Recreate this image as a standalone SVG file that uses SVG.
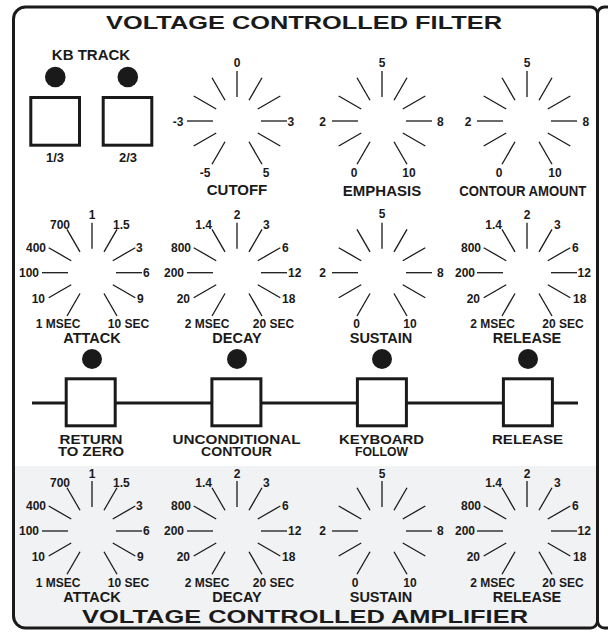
<svg xmlns="http://www.w3.org/2000/svg" xmlns:xlink="http://www.w3.org/1999/xlink" width="608" height="634" viewBox="0 0 608 634">
<style>
text{font-family:"Liberation Sans",Arial,Helvetica,sans-serif;font-weight:bold;fill:#1a1a1a}
.n{font-size:12px}
.m{text-anchor:middle}
.e{text-anchor:end}
.nm{font-size:14.5px;text-anchor:middle}
.fn{font-size:15px;text-anchor:middle}
.sw{font-size:13.5px;text-anchor:middle}
.title{font-size:18px;text-anchor:middle}
.led{fill:#1a1a1a}
.btn{fill:#fff;stroke:#1a1a1a;stroke-width:3}
.frame{fill:none;stroke:#1a1a1a;stroke-width:3}
</style>
<defs>
<g id="tkb" stroke="#1a1a1a" stroke-width="1.3">
<line x1="0" y1="-24" x2="0" y2="-50"/>
<line x1="12" y1="-20.78" x2="25" y2="-43.3"/>
<line x1="20.78" y1="-12" x2="43.3" y2="-25"/>
<line x1="20.78" y1="12" x2="43.3" y2="25"/>
<line x1="12" y1="20.78" x2="25" y2="43.3"/>
<line x1="-12" y1="20.78" x2="-25" y2="43.3"/>
<line x1="-20.78" y1="12" x2="-43.3" y2="25"/>
<line x1="-24" y1="0" x2="-50" y2="0"/>
<line x1="-20.78" y1="-12" x2="-43.3" y2="-25"/>
<line x1="-12" y1="-20.78" x2="-25" y2="-43.3"/>
<line x1="24" y1="0" x2="50" y2="0"/>
</g>
</defs>

<g id="panel">
<path d="M13.5 466 H597.5 V621 A7 7 0 0 1 590.5 628 H25.5 A12 12 0 0 1 13.5 616 Z" fill="#f1f2f4"/>
<path class="frame" d="M25.5 7 H590.5 A7 7 0 0 1 597.5 14 V621 A7 7 0 0 1 590.5 628 H25.5 A12 12 0 0 1 13.5 616 V19 A12 12 0 0 1 25.5 7 Z"/>
<path class="frame" d="M597.5 14 A7 7 0 0 1 604.5 7 H609 M597.5 621 A7 7 0 0 0 604.5 628 H609"/>
<text class="title" x="304" y="29" textLength="396" lengthAdjust="spacingAndGlyphs">VOLTAGE CONTROLLED FILTER</text>
<text class="title" x="305" y="623" textLength="446" lengthAdjust="spacingAndGlyphs">VOLTAGE CONTROLLED AMPLIFIER</text>
</g>

<g id="kb-track">
<text class="fn" x="91" y="60">KB TRACK</text>
<circle class="led" cx="55.3" cy="77" r="10.3"/>
<circle class="led" cx="127.8" cy="77" r="10.3"/>
<rect class="btn" x="30.8" y="97.5" width="48.7" height="47.7"/>
<rect class="btn" x="103.2" y="97.5" width="48.6" height="47.7"/>
<text class="m" style="font-size:13px" x="55" y="161.7">1/3</text>
<text class="m" style="font-size:13px" x="128" y="161.7">2/3</text>
</g>

<g id="vcf-cutoff" transform="translate(237,121)">
<use xlink:href="#tkb" href="#tkb"/>
<text class="n m" x="0" y="-54">0</text>
<text class="n e" x="-53.5" y="4.5">-3</text>
<text class="n" x="50.5" y="4.5">3</text>
<text class="n m" x="-32" y="56">-5</text>
<text class="n m" x="29" y="56">5</text>
<text class="fn" x="0" y="74">CUTOFF</text>
</g>

<g id="vcf-emphasis" transform="translate(382,121)">
<use xlink:href="#tkb" href="#tkb"/>
<text class="n m" x="0" y="-54">5</text>
<text class="n e" x="-56" y="4.5">2</text>
<text class="n" x="55" y="4.5">8</text>
<text class="n m" x="-28" y="55.7">0</text>
<text class="n m" x="27" y="55.7">10</text>
<text class="fn" x="0" y="74.5">EMPHASIS</text>
</g>

<g id="vcf-contour" transform="translate(527,121)">
<use xlink:href="#tkb" href="#tkb"/>
<text class="n m" x="0" y="-54">5</text>
<text class="n e" x="-55.5" y="4.5">2</text>
<text class="n" x="55.5" y="4.5">8</text>
<text class="n m" x="-28" y="55.7">0</text>
<text class="n m" x="28" y="55.7">10</text>
<text class="fn" x="-4.3" y="74.5" textLength="127" lengthAdjust="spacingAndGlyphs">CONTOUR AMOUNT</text>
</g>

<g id="vcf-attack" transform="translate(92,272.7)">
<use xlink:href="#tkb" href="#tkb"/>
<text class="n m" x="0" y="-54">1</text>
<text class="n e" x="-22" y="-44">700</text>
<text class="n" x="21" y="-44">1.5</text>
<text class="n e" x="-46" y="-21">400</text>
<text class="n" x="44" y="-21">3</text>
<text class="n e" x="-53" y="4.3">100</text>
<text class="n" x="51" y="4.3">6</text>
<text class="n e" x="-47" y="30.3">10</text>
<text class="n" x="45" y="30.3">9</text>
<text class="n m" x="-34" y="55.3">1 MSEC</text>
<text class="n m" x="36.5" y="55.3">10 SEC</text>
<text class="nm" x="0" y="70.5">ATTACK</text>
</g>

<g id="vcf-decay" transform="translate(237,272.7)">
<use xlink:href="#tkb" href="#tkb"/>
<text class="n m" x="0" y="-54">2</text>
<text class="n e" x="-25" y="-44">1.4</text>
<text class="n" x="26" y="-44">3</text>
<text class="n e" x="-46" y="-21">800</text>
<text class="n" x="45" y="-21">6</text>
<text class="n e" x="-53" y="4.3">200</text>
<text class="n" x="51" y="4.3">12</text>
<text class="n e" x="-47" y="30.3">20</text>
<text class="n" x="45" y="30.3">18</text>
<text class="n m" x="-30" y="55.3">2 MSEC</text>
<text class="n m" x="36.5" y="55.3">20 SEC</text>
<text class="nm" x="0" y="70.5">DECAY</text>
</g>

<g id="vcf-sustain" transform="translate(382,272.7)">
<use xlink:href="#tkb" href="#tkb"/>
<text class="n m" x="0" y="-54.5">5</text>
<text class="n e" x="-56" y="4.3">2</text>
<text class="n" x="55" y="4.3">8</text>
<text class="n m" x="-25.5" y="55">0</text>
<text class="n m" x="28" y="55">10</text>
<text class="nm" x="-1" y="70.5">SUSTAIN</text>
</g>

<g id="vcf-release" transform="translate(527,272.7)">
<use xlink:href="#tkb" href="#tkb"/>
<text class="n m" x="0" y="-54">2</text>
<text class="n e" x="-25" y="-44">1.4</text>
<text class="n" x="27" y="-44">3</text>
<text class="n e" x="-46" y="-21">800</text>
<text class="n" x="45" y="-21">6</text>
<text class="n e" x="-52" y="4.3">200</text>
<text class="n" x="50.5" y="4.3">12</text>
<text class="n e" x="-47" y="30.3">20</text>
<text class="n" x="46" y="30.3">18</text>
<text class="n m" x="-34.5" y="55.3">2 MSEC</text>
<text class="n m" x="36" y="55.3">20 SEC</text>
<text class="nm" x="0" y="70.5">RELEASE</text>
</g>

<g id="connectors">
<line x1="32" y1="403" x2="578" y2="403" stroke="#1a1a1a" stroke-width="3"/>
</g>

<g id="sw-return">
<circle class="led" cx="92" cy="359" r="10"/>
<rect class="btn" x="66.2" y="378.8" width="49" height="47"/>
<text class="sw" x="91" y="443.5" textLength="63" lengthAdjust="spacingAndGlyphs">RETURN</text>
<text class="sw" x="91" y="455.5" textLength="66" lengthAdjust="spacingAndGlyphs">TO ZERO</text>
</g>
<g id="sw-unconditional">
<circle class="led" cx="237" cy="359" r="10"/>
<rect class="btn" x="211.9" y="378.8" width="49" height="47"/>
<text class="sw" x="236.5" y="443.5" textLength="128" lengthAdjust="spacingAndGlyphs">UNCONDITIONAL</text>
<text class="sw" x="236.5" y="455.5" textLength="71" lengthAdjust="spacingAndGlyphs">CONTOUR</text>
</g>
<g id="sw-keyboard">
<circle class="led" cx="382" cy="359" r="10"/>
<rect class="btn" x="357.4" y="378.8" width="49" height="47"/>
<text class="sw" x="381.5" y="443.5" textLength="85" lengthAdjust="spacingAndGlyphs">KEYBOARD</text>
<text class="sw" x="381.5" y="455.5" textLength="53" lengthAdjust="spacingAndGlyphs">FOLLOW</text>
</g>
<g id="sw-release">
<circle class="led" cx="528" cy="359" r="10"/>
<rect class="btn" x="503.4" y="378.8" width="49" height="47"/>
<text class="sw" x="527.5" y="443.5" textLength="71" lengthAdjust="spacingAndGlyphs">RELEASE</text>
</g>

<g id="vca-attack" transform="translate(92,531)">
<use xlink:href="#tkb" href="#tkb"/>
<text class="n m" x="0" y="-53">1</text>
<text class="n e" x="-22" y="-44">700</text>
<text class="n" x="21" y="-44">1.5</text>
<text class="n e" x="-46" y="-21">400</text>
<text class="n" x="44" y="-21">3</text>
<text class="n e" x="-53" y="4.3">100</text>
<text class="n" x="51" y="4.3">6</text>
<text class="n e" x="-47" y="30.3">10</text>
<text class="n" x="45" y="30.3">9</text>
<text class="n m" x="-34" y="55.5">1 MSEC</text>
<text class="n m" x="36.5" y="55.5">10 SEC</text>
<text class="nm" x="0" y="70.7">ATTACK</text>
</g>

<g id="vca-decay" transform="translate(237,531)">
<use xlink:href="#tkb" href="#tkb"/>
<text class="n m" x="0" y="-53">2</text>
<text class="n e" x="-25" y="-44">1.4</text>
<text class="n" x="26" y="-44">3</text>
<text class="n e" x="-46" y="-21">800</text>
<text class="n" x="45" y="-21">6</text>
<text class="n e" x="-53" y="4.3">200</text>
<text class="n" x="51" y="4.3">12</text>
<text class="n e" x="-47" y="30.3">20</text>
<text class="n" x="45" y="30.3">18</text>
<text class="n m" x="-30" y="55.5">2 MSEC</text>
<text class="n m" x="36.5" y="55.5">20 SEC</text>
<text class="nm" x="0" y="70.7">DECAY</text>
</g>

<g id="vca-sustain" transform="translate(382,531)">
<use xlink:href="#tkb" href="#tkb"/>
<text class="n m" x="0" y="-53.5">5</text>
<text class="n e" x="-56" y="4.3">2</text>
<text class="n" x="55" y="4.3">8</text>
<text class="n m" x="-27" y="55.5">0</text>
<text class="n m" x="28" y="55.5">10</text>
<text class="nm" x="-1" y="70.7">SUSTAIN</text>
</g>

<g id="vca-release" transform="translate(527,531)">
<use xlink:href="#tkb" href="#tkb"/>
<text class="n m" x="0" y="-53">2</text>
<text class="n e" x="-25" y="-44">1.4</text>
<text class="n" x="27" y="-44">3</text>
<text class="n e" x="-46" y="-21">800</text>
<text class="n" x="45" y="-21">6</text>
<text class="n e" x="-52" y="4.3">200</text>
<text class="n" x="50.5" y="4.3">12</text>
<text class="n e" x="-47" y="30.3">20</text>
<text class="n" x="46" y="30.3">18</text>
<text class="n m" x="-34.5" y="55.5">2 MSEC</text>
<text class="n m" x="36" y="55.5">20 SEC</text>
<text class="nm" x="0" y="70.7">RELEASE</text>
</g>
</svg>
